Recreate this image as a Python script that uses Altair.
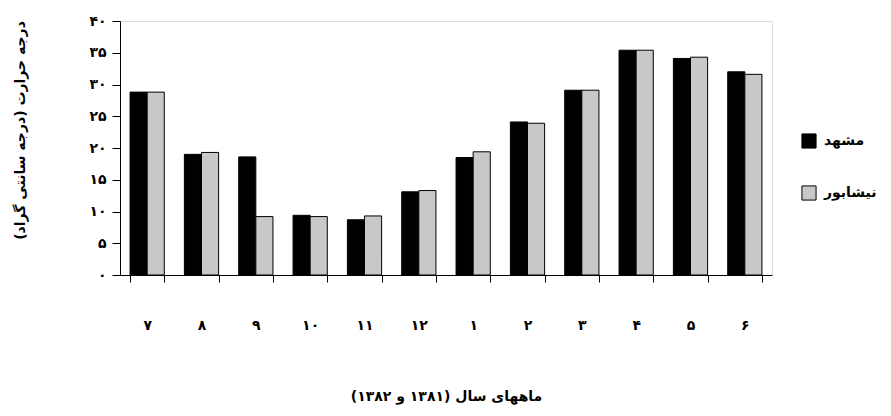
import altair as alt
import pandas as pd

months = ["۷", "۸", "۹", "۱۰", "۱۱", "۱۲", "۱", "۲", "۳", "۴", "۵", "۶"]
mashhad = [28.8, 19.0, 18.6, 9.4, 8.7, 13.1, 18.5, 24.1, 29.1, 35.4, 34.1, 32.0]
neyshabur = [28.8, 19.3, 9.2, 9.2, 9.3, 13.3, 19.4, 23.9, 29.1, 35.4, 34.3, 31.6]
series = ["مشهد", "نیشابور"]
y_ticks = [0, 5, 10, 15, 20, 25, 30, 35, 40]
y_tick_labels = ["۰", "۵", "۱۰", "۱۵", "۲۰", "۲۵", "۳۰", "۳۵", "۴۰"]
y_title = "درجه حرارت (درجه سانتی گراد)"
x_title = "ماههای سال (۱۳۸۱ و ۱۳۸۲)"

rows = []
for i, m in enumerate(months):
    rows.append({"month": m, "city": series[0], "temp": mashhad[i]})
    rows.append({"month": m, "city": series[1], "temp": neyshabur[i]})
df = pd.DataFrame(rows)

FONT = "DejaVu Sans"
label_expr = "[" + ",".join("'%s'" % s for s in y_tick_labels) + "][round(datum.value/5)]"

chart = alt.Chart(df).mark_bar(stroke="black", strokeWidth=1).encode(
    x=alt.X("month:N", sort=months,
            scale=alt.Scale(paddingInner=0.37, paddingOuter=0.185),
            axis=alt.Axis(title=x_title, labelAngle=0, tickBand="extent",
                          tickSize=7, labelPadding=36, titlePadding=57,
                          labelFontSize=14, labelFont=FONT, labelFontWeight="bold",
                          titleFont=FONT, titleFontSize=14, titleFontWeight="bold",
                          domainColor="black", tickColor="black", labelColor="black",
                          titleColor="black")),
    xOffset=alt.XOffset("city:N", sort=series),
    y=alt.Y("temp:Q", scale=alt.Scale(domain=[0, 40], nice=False),
            axis=alt.Axis(title=y_title, values=y_ticks, labelExpr=label_expr,
                          grid=False, tickSize=8, labelPadding=6,
                          labelFontSize=14, labelFont=FONT, labelFontWeight="bold",
                          titleFont=FONT, titleFontSize=14, titleFontWeight="bold",
                          titleAngle=270, titleX=-100, titleY=109,
                          titleAlign="center", titleBaseline="middle",
                          domainColor="black", tickColor="black", labelColor="black",
                          titleColor="black")),
    color=alt.Color("city:N", sort=series,
                    scale=alt.Scale(domain=series, range=["#000000", "#c8c8c8"]),
                    legend=alt.Legend(title=None, orient="none", legendX=681, legendY=112,
                                      symbolType="square", symbolSize=200,
                                      symbolStrokeColor="black", symbolStrokeWidth=1,
                                      labelFont=FONT, labelFontSize=14, labelFontWeight="bold",
                                      labelColor="black", rowPadding=32, labelOffset=7,
                                      labelLimit=200)),
).properties(
    width=652, height=254,
    autosize=alt.AutoSizeParams(type="none"),
    padding={"left": 112, "top": 13, "right": 111, "bottom": 133},
).configure_view(stroke=None).configure(background="white")

chart.save("out.html", embed_options={"renderer": "svg", "actions": False})
